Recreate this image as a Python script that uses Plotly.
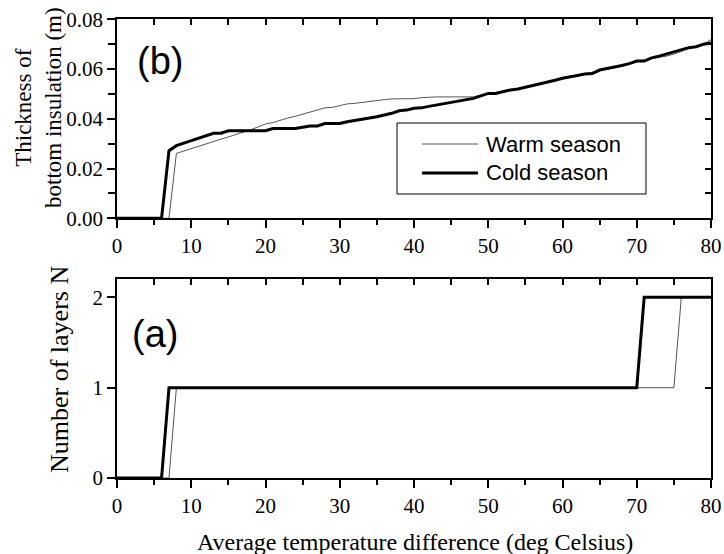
import plotly.graph_objects as go

# ---------------- data ----------------
x_vals = list(range(0, 81))

thick_cold = [0, 0, 0, 0, 0, 0, 0,
              0.0272, 0.0292, 0.0302, 0.0312, 0.0322, 0.0332, 0.0342, 0.0342, 0.0352,
              0.0352, 0.0352, 0.0352, 0.0352, 0.0352, 0.0361, 0.0361, 0.0361, 0.0361,
              0.0366, 0.0371, 0.0371, 0.0381, 0.0381, 0.0381, 0.0388, 0.0392, 0.0398,
              0.0403, 0.0408, 0.0414, 0.0422, 0.0432, 0.0435, 0.0442, 0.0444, 0.0450,
              0.0455, 0.0460, 0.0465, 0.0470, 0.0476, 0.0482, 0.0492, 0.0502, 0.0502,
              0.0510, 0.0516, 0.0520, 0.0527, 0.0532, 0.0538, 0.0545, 0.0555, 0.0563,
              0.0567, 0.0574, 0.0580, 0.0582, 0.0596, 0.0602, 0.0605, 0.0614, 0.0622,
              0.0632, 0.0632, 0.0645, 0.0652, 0.0660, 0.0668, 0.0676, 0.0686, 0.0690,
              0.0700, 0.0705]

thick_warm = [0, 0, 0, 0, 0, 0, 0, 0,
              0.0261, 0.0271, 0.0281, 0.0291, 0.0300, 0.0310, 0.0318, 0.0327, 0.0336,
              0.0345, 0.0356, 0.0367, 0.0379, 0.0385, 0.0395, 0.0403, 0.0410, 0.0419,
              0.0425, 0.0434, 0.0444, 0.0446, 0.0452, 0.0460, 0.0462, 0.0466, 0.0470,
              0.0475, 0.0477, 0.0480, 0.0480, 0.0481, 0.0481, 0.0485, 0.0488, 0.0488,
              0.0488, 0.0488, 0.0488, 0.0488, 0.0488, 0.0495, 0.0502, 0.0506, 0.0512,
              0.0516, 0.0522, 0.0527, 0.0532, 0.0538, 0.0547, 0.0555, 0.0562, 0.0568,
              0.0574, 0.0580, 0.0586, 0.0594, 0.0600, 0.0606, 0.0614, 0.0622, 0.0628,
              0.0636, 0.0642, 0.0646, 0.0652, 0.0660, 0.0672, 0.0682, 0.0692, 0.0700,
              0.0718]

layers_x_cold = [0, 6, 7, 70, 71, 80]
layers_cold = [0, 0, 1, 1, 2, 2]
layers_x_warm = [0, 7, 8, 75, 76, 80]
layers_warm = [0, 0, 1, 1, 2, 2]

x_ticks = [0, 10, 20, 30, 40, 50, 60, 70, 80]
thick_ticks = [0.00, 0.02, 0.04, 0.06, 0.08]
layer_ticks = [0, 1, 2]

series_names = ["Warm season", "Cold season"]

# ---------------- figure ----------------
SERIF = "Liberation Serif"
SANS = "Liberation Sans"
warm_line = dict(color="#555555", width=1)
cold_line = dict(color="black", width=3)
TW = 2  # tick width

# page geometry (pixels) used for paper-coordinate placement
L, R, T, B, W, H = 117, 13, 19, 76, 724, 554
PW, PH = W - L - R, H - T - B


def px(xp):
    return (xp - L) / PW


def py(yp):
    return (H - B - yp) / PH


fig = go.Figure()
fig.add_trace(go.Scatter(x=x_vals, y=thick_warm, mode="lines", line=warm_line,
                         name=series_names[0], xaxis="x", yaxis="y", showlegend=False))
fig.add_trace(go.Scatter(x=x_vals, y=thick_cold, mode="lines", line=cold_line,
                         name=series_names[1], xaxis="x", yaxis="y", showlegend=False))
fig.add_trace(go.Scatter(x=layers_x_warm, y=layers_warm, mode="lines", line=warm_line,
                         showlegend=False, xaxis="x2", yaxis="y2"))
fig.add_trace(go.Scatter(x=layers_x_cold, y=layers_cold, mode="lines", line=cold_line,
                         showlegend=False, xaxis="x2", yaxis="y2"))
# invisible helper traces on twin subplots that carry the inward top/right ticks
for xa, ya, xs, ys in [("x3", "y3", x_vals, thick_cold),
                       ("x4", "y4", layers_x_cold, layers_cold)]:
    fig.add_trace(go.Scatter(x=xs, y=ys, mode="lines", showlegend=False, opacity=0,
                             line=dict(width=1, color="rgba(0,0,0,0)"),
                             hoverinfo="skip", xaxis=xa, yaxis=ya))

tickfont = dict(family=SERIF, size=21, color="black")
top_dom = [py(218.3), min(1.0, py(19.3))]
bot_dom = [0.0, py(279.3)]

base_x = dict(range=[0, 80], tickvals=x_ticks, ticks="outside", ticklen=8, tickwidth=TW,
              tickcolor="black", showline=True, linecolor="black", linewidth=1.8,
              mirror=True, showgrid=False, zeroline=False, tickfont=tickfont, automargin=False,
              minor=dict(dtick=5, tick0=0, ticks="outside", ticklen=5, tickcolor="black",
                         tickwidth=TW, showgrid=False))
inner_x = dict(range=[0, 80], tickmode="linear", dtick=5, tick0=0, ticks="inside", ticklen=6,
               tickwidth=TW, tickcolor="black", showticklabels=False, showline=False,
               showgrid=False, zeroline=False, side="top", automargin=False, domain=[0, 1])
inner_y = dict(tickmode="linear", ticks="inside", ticklen=6, tickwidth=TW, tickcolor="black",
               showticklabels=False, showline=False, showgrid=False, zeroline=False,
               side="right", automargin=False)

fig.update_layout(
    width=W, height=H,
    margin=dict(l=L, r=R, t=T, b=B, autoexpand=False),
    font=dict(family=SERIF, color="black"),
    paper_bgcolor="white", plot_bgcolor="rgba(0,0,0,0)",
    xaxis=dict(base_x, anchor="y", domain=[0, 1]),
    yaxis=dict(range=[0, 0.08], tickvals=thick_ticks, tickformat=".2f", ticks="outside",
               ticklen=8, tickwidth=TW, tickcolor="black", showline=True, linecolor="black",
               linewidth=1.8, mirror=True, showgrid=False, zeroline=False, tickfont=tickfont,
               domain=top_dom, anchor="x", automargin=False,
               minor=dict(dtick=0.01, tick0=0, ticks="outside", ticklen=7, tickcolor="black",
                          tickwidth=TW, showgrid=False)),
    xaxis2=dict(base_x, anchor="y2", domain=[0, 1]),
    yaxis2=dict(range=[0, 2.2], tickvals=layer_ticks, ticks="outside", ticklen=8, tickwidth=TW,
                tickcolor="black", showline=True, linecolor="black", linewidth=1.8,
                mirror=True, showgrid=False, zeroline=False, tickfont=tickfont,
                domain=bot_dom, anchor="x2", automargin=False),
    xaxis3=dict(inner_x, anchor="y3"),
    yaxis3=dict(inner_y, range=[0, 0.08], dtick=0.01, tick0=0, domain=top_dom, anchor="x3"),
    xaxis4=dict(inner_x, anchor="y4"),
    yaxis4=dict(inner_y, range=[0, 2.2], dtick=1, tick0=0, domain=bot_dom, anchor="x4"),
    showlegend=False,
)

# legend drawn as a boxed key inside the upper panel
fig.add_shape(type="rect", xref="paper", yref="paper", x0=px(397), x1=px(646),
              y0=py(194), y1=py(123), line=dict(color="black", width=1),
              fillcolor="white", layer="above")
for yy, ln, name in [(144, warm_line, series_names[0]), (173, cold_line, series_names[1])]:
    fig.add_shape(type="line", xref="paper", yref="paper", x0=px(422), x1=px(478),
                  y0=py(yy), y1=py(yy), line=ln, layer="above")
    fig.add_annotation(text=name, xref="paper", yref="paper", x=px(484), y=py(yy),
                       xanchor="left", yanchor="middle", showarrow=False,
                       font=dict(family=SANS, size=22, color="black"))

ann = [
    dict(text="(b)", x=px(160), y=py(64) + 0.006, font=dict(family=SANS, size=38, color="black")),
    dict(text="(a)", x=px(155), y=py(337) + 0.007, font=dict(family=SANS, size=38, color="black")),
    dict(text="Thickness of<br>bottom insulation (m)", x=px(38), y=py(108),
         textangle=-90, font=dict(family=SERIF, size=23, color="black")),
    dict(text="Number of layers N", x=px(59), y=py(370), textangle=-90,
         font=dict(family=SERIF, size=26, color="black")),
    dict(text="Average temperature difference (deg Celsius)", x=px(415), y=py(542),
         font=dict(family=SERIF, size=24, color="black")),
]
for a in ann:
    fig.add_annotation(xref="paper", yref="paper", showarrow=False,
                       xanchor="center", yanchor="middle", **a)

fig.write_html("out.html")
